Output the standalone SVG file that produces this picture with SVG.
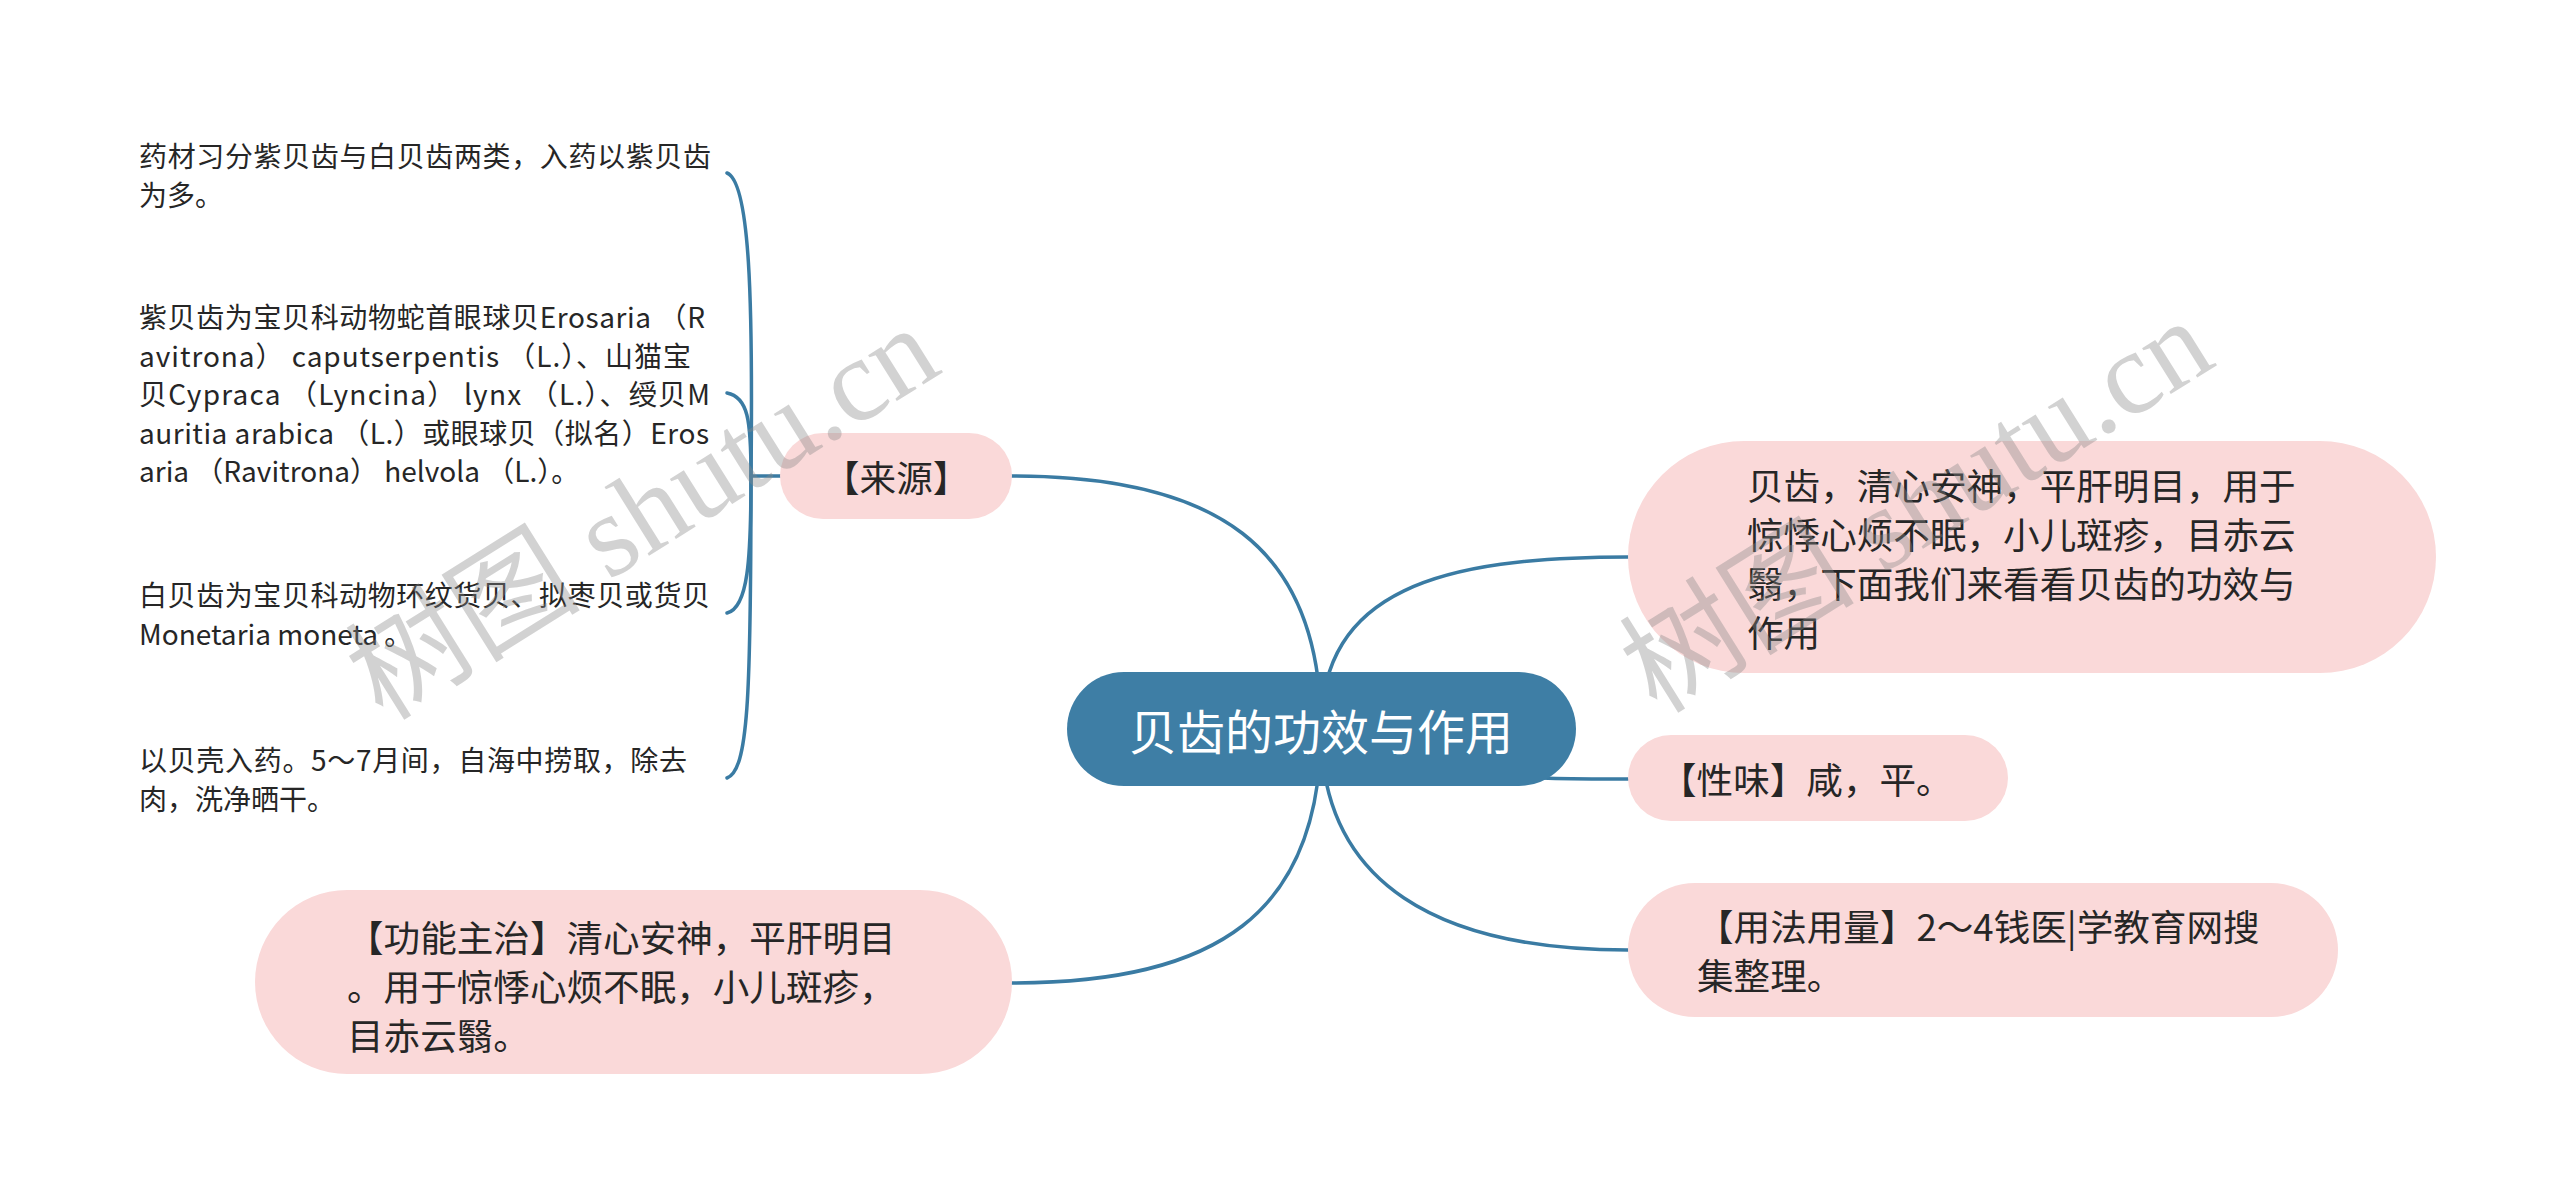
<svg xmlns="http://www.w3.org/2000/svg" width="2560" height="1198" viewBox="0 0 2560 1198">
<style>
.bg{fill:#ffffff}
.conn{fill:none;stroke:#3a7ba3;stroke-width:3.5;stroke-linecap:round}
.pink{fill:#fad9d9}
.root{fill:#3e7ea5}
.t{font-family:"Noto Sans CJK SC","Noto Sans",sans-serif;fill:#262626;dominant-baseline:central}
.s28{font-size:28px}
.s36{font-size:36.6px}
.rt{font-family:"Noto Sans CJK SC","Noto Sans",sans-serif;font-size:48px;fill:#ffffff;dominant-baseline:central;text-anchor:middle}
.wm{font-size:118px;fill:#8a8a8a;fill-opacity:0.38}
.wmc{font-family:"Noto Sans CJK SC",sans-serif}
.wml{font-family:"Liberation Serif",serif}
</style>
<rect class="bg" x="0" y="0" width="2560" height="1198"/>
<g id="connectors">
  <path class="conn" d="M1321,729 C1321,545 1215,476 1012,476"/>
  <path class="conn" d="M1321,729 C1321,915 1215,983 1012,983"/>
  <path class="conn" d="M1321,729 C1321,590 1440,557 1628,557"/>
  <path class="conn" d="M1321,729 C1420,779 1520,779 1628,779"/>
  <path class="conn" d="M1321,729 C1321,885 1440,950 1628,950"/>
  <path class="conn" d="M780,476 L751,476"/>
  <path class="conn" d="M751,476 C753,300 750,182 727,173"/>
  <path class="conn" d="M751,476 C751,420 748,397 727,393"/>
  <path class="conn" d="M751,476 C751,560 748,608 727,613"/>
  <path class="conn" d="M751,476 C751,700 748,770 727,778"/>
</g>
<g id="root">
  <rect class="root" x="1067" y="672" width="509" height="114" rx="57"/>
  <text class="rt" x="1321" y="729">贝齿的功效与作用</text>
</g>
<g id="n-laiyuan">
  <rect class="pink" x="780" y="433" width="232" height="86" rx="43"/>
  <text class="t s36" x="823" y="476">【来源】</text>
</g>
<g id="item1">
  <text class="t s28" x="139" y="155" textLength="572" lengthAdjust="spacing">药材习分紫贝齿与白贝齿两类，入药以紫贝齿</text>
  <text class="t s28" x="139" y="193.5">为多。</text>
</g>
<g id="item2">
  <text class="t s28" x="139" y="316" textLength="566" lengthAdjust="spacing">紫贝齿为宝贝科动物蛇首眼球贝Erosaria （R</text>
  <text class="t s28" x="139" y="354.5" textLength="552" lengthAdjust="spacing">avitrona） caputserpentis （L.）、山猫宝</text>
  <text class="t s28" x="139" y="393" textLength="571" lengthAdjust="spacing">贝Cypraca （Lyncina） lynx （L.）、绶贝M</text>
  <text class="t s28" x="139" y="431.5" textLength="570" lengthAdjust="spacing">auritia arabica （L.）或眼球贝（拟名）Eros</text>
  <text class="t s28" x="139" y="470">aria （Ravitrona） helvola （L.）。</text>
</g>
<g id="item3">
  <text class="t s28" x="139" y="594" textLength="571" lengthAdjust="spacing">白贝齿为宝贝科动物环纹货贝、拟枣贝或货贝</text>
  <text class="t s28" x="139" y="632.5">Monetaria moneta 。</text>
</g>
<g id="item4">
  <text class="t s28" x="139" y="759" textLength="548" lengthAdjust="spacing">以贝壳入药。5～7月间，自海中捞取，除去</text>
  <text class="t s28" x="139" y="797.5">肉，洗净晒干。</text>
</g>
<g id="n-gongneng">
  <rect class="pink" x="255" y="890" width="757" height="184" rx="92"/>
  <text class="t s36" x="347" y="936">【功能主治】清心安神，平肝明目</text>
  <text class="t s36" x="347" y="985">。用于惊悸心烦不眠，小儿斑疹，</text>
  <text class="t s36" x="347" y="1034">目赤云翳。</text>
</g>
<g id="n-intro">
  <rect class="pink" x="1628" y="441" width="808" height="232" rx="116"/>
  <text class="t s36" x="1747" y="484">贝齿，清心安神，平肝明目，用于</text>
  <text class="t s36" x="1747" y="533">惊悸心烦不眠，小儿斑疹，目赤云</text>
  <text class="t s36" x="1747" y="582">翳，下面我们来看看贝齿的功效与</text>
  <text class="t s36" x="1747" y="631">作用</text>
</g>
<g id="n-xingwei">
  <rect class="pink" x="1628" y="735" width="380" height="86" rx="43"/>
  <text class="t s36" x="1660" y="778">【性味】咸，平。</text>
</g>
<g id="n-yongfa">
  <rect class="pink" x="1628" y="883" width="710" height="134" rx="67"/>
  <text class="t s36" x="1697" y="925.5">【用法用量】2～4钱医|学教育网搜</text>
  <text class="t s36" x="1697" y="974.5">集整理。</text>
</g>
<g id="watermark">
  <text class="wm" transform="translate(383,722) rotate(-32)"><tspan class="wmc">树图</tspan><tspan class="wml"> shutu.cn</tspan></text>
  <text class="wm" transform="translate(1657,715) rotate(-32)"><tspan class="wmc">树图</tspan><tspan class="wml"> shutu.cn</tspan></text>
</g>
</svg>
